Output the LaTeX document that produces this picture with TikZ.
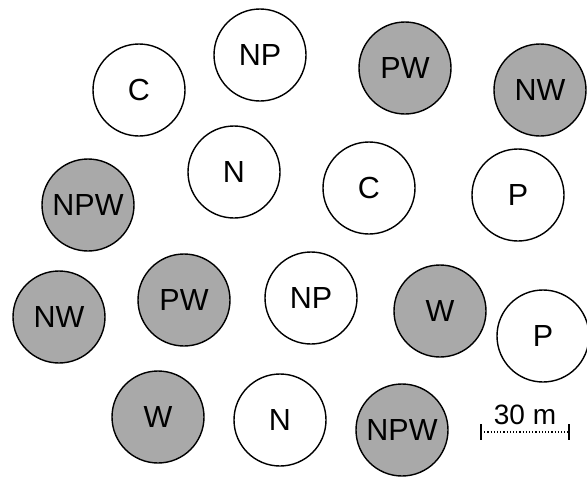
\documentclass[tikz,border=0pt]{standalone}
\usepackage{fontspec}
\setmainfont{Liberation Sans}
\definecolor{wetgray}{HTML}{A9A9A9}
\begin{document}
\begin{tikzpicture}[x=1pt,y=-1pt,
  plot node/.style={circle,draw,line width=1.4pt,minimum size=92pt,inner sep=0pt,font=\fontsize{30.5}{30.5}\selectfont},
  wet node/.style={plot node,fill=wetgray}]
  \useasboundingbox (0,0) rectangle (587,477);
  \node[plot node] (c1) at (139,90) {C};
  \node[plot node] (np1) at (260,55) {NP};
  \node[wet node] (pw1) at (405,68) {PW};
  \node[wet node] (nw1) at (540,90) {NW};
  \node[plot node] (n1) at (234,172) {N};
  \node[plot node] (c2) at (369,188) {C};
  \node[plot node] (p1) at (518,195) {P};
  \node[wet node] (npw1) at (88,205) {NPW};
  \node[wet node] (nw2) at (59,317) {NW};
  \node[wet node] (pw2) at (184,300) {PW};
  \node[plot node] (np2) at (311,298) {NP};
  \node[wet node] (w1) at (440,311) {W};
  \node[plot node] (p2) at (543,336) {P};
  \node[wet node] (w2) at (158,417) {W};
  \node[plot node] (n2) at (280,420) {N};
  \node[wet node] (npw2) at (402,430) {NPW};

  % scale bar
  \coordinate (sbl) at (481,432);
  \coordinate (sbr) at (569,432);
  \draw[line width=1.2pt,dotted] (sbl) -- node[above=7pt,inner sep=0pt,font=\fontsize{28}{28}\selectfont] (sblabel) {30 m} (sbr);
  \draw[line width=1.6pt] (sbl) ++(0,-8) -- ++(0,16) (sbr) ++(0,-8) -- ++(0,16);
\end{tikzpicture}
\end{document}
